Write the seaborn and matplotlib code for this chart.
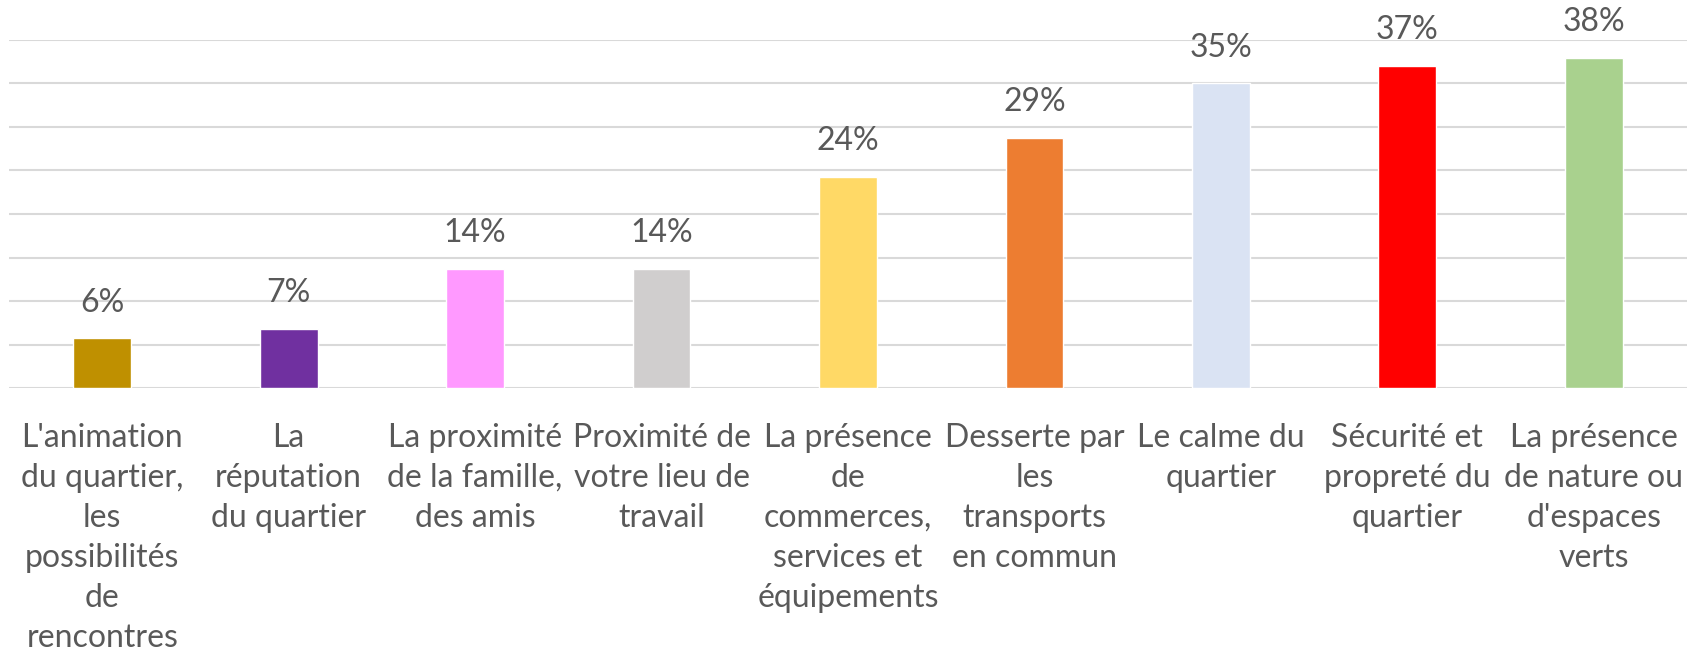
import matplotlib
matplotlib.use("Agg")
import matplotlib.pyplot as plt
import seaborn as sns
import pandas as pd

categories = [
    "L'animation\ndu quartier,\nles\npossibilités\nde\nrencontres",
    "La\nréputation\ndu quartier",
    "La proximité\nde la famille,\ndes amis",
    "Proximité de\nvotre lieu de\ntravail",
    "La présence\nde\ncommerces,\nservices et\néquipements",
    "Desserte par\nles\ntransports\nen commun",
    "Le calme du\nquartier",
    "Sécurité et\npropreté du\nquartier",
    "La présence\nde nature ou\nd'espaces\nverts",
]
values = [5.7, 6.8, 13.7, 13.7, 24.3, 28.7, 35.0, 37.0, 37.9]
colors = ["#BF9000", "#7030A0", "#FF99FF", "#D0CECE", "#FFD966",
          "#ED7D31", "#DAE3F3", "#FF0000", "#A9D18E"]

sns.set_theme(style="white")
plt.rcParams['font.family'] = ['Lato', 'DejaVu Sans']

df = pd.DataFrame({"cat": categories, "val": values})

fig = plt.figure(figsize=(16.89, 6.58), dpi=100)
ax = fig.add_axes([9 / 1689, 1 - 388 / 658, (1687 - 9) / 1689, (388 - 40) / 658])

sns.barplot(data=df, x="cat", y="val", hue="cat", palette=colors,
            legend=False, width=0.31, ax=ax, saturation=1, zorder=3)

ax.set_ylim(0, 40)
ax.set_xlim(-0.5, len(categories) - 0.5)
ax.set_yticks(range(0, 41, 5))
ax.yaxis.grid(True, color="#D9D9D9", linewidth=1.5, zorder=0)
ax.set_axisbelow(True)
ax.tick_params(axis="y", left=False, labelleft=False)
ax.tick_params(axis="x", bottom=False, pad=19, labelsize=23, labelcolor="#595959")
for lab in ax.get_xticklabels():
    lab.set_linespacing(1.42)
for s in ax.spines.values():
    s.set_visible(False)
ax.set_xlabel("")
ax.set_ylabel("")

for i, v in enumerate(values):
    ax.annotate(f"{round(v)}%", (i, v), xytext=(0, 15), textcoords="offset points",
                ha="center", va="bottom", fontsize=23, color="#595959",
                annotation_clip=False)

fig.savefig("out.png", dpi=100)
